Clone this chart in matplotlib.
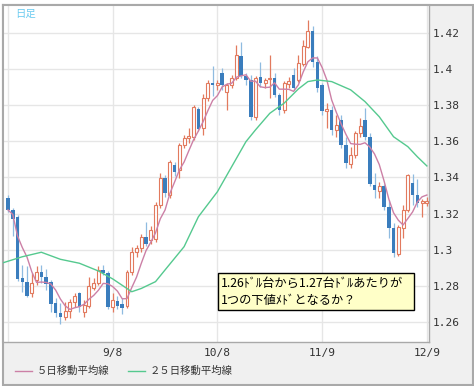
import numpy as np
import pandas as pd
import matplotlib
matplotlib.use('Agg')
import matplotlib.pyplot as plt
from matplotlib.patches import Rectangle
from matplotlib.lines import Line2D

plt.rcParams['font.family'] = ['Noto Sans CJK JP', 'DejaVu Sans']

# daily candles, 8/9 .. 12/9 (one per trading day)
opens = [1.3286, 1.3220, 1.3181, 1.2842, 1.2820, 1.2759, 1.2831, 1.2875, 1.2848, 1.2820,
         1.2703, 1.2648, 1.2626, 1.2659, 1.2709, 1.2759, 1.2653, 1.2687, 1.2787, 1.2814,
         1.2887, 1.2870, 1.2681, 1.2714, 1.2698, 1.2687, 1.2875, 1.2986, 1.3009, 1.3070,
         1.3053, 1.3059, 1.3247, 1.3397, 1.3303, 1.3469, 1.3442, 1.3580, 1.3619, 1.3625,
         1.3780, 1.3675, 1.3841, 1.3924, 1.3913, 1.3980, 1.3874, 1.3913, 1.3952, 1.4074,
         1.3963, 1.3941, 1.3736, 1.3958, 1.3924, 1.3947, 1.3952, 1.3858, 1.3775, 1.3919,
         1.3969, 1.3941, 1.4030, 1.4124, 1.4213, 1.4041, 1.3913, 1.3769, 1.3775, 1.3664,
         1.3719, 1.3580, 1.3475, 1.3525, 1.3647, 1.3719, 1.3625, 1.3358, 1.3325, 1.3353,
         1.3236, 1.3120, 1.2975, 1.3120, 1.3220, 1.3369, 1.3303, 1.3258, 1.3258]
highs = [1.3303, 1.3231, 1.3192, 1.2914, 1.2909, 1.2870, 1.2909, 1.2914, 1.2892, 1.2831,
         1.2731, 1.2703, 1.2709, 1.2726, 1.2759, 1.2764, 1.2720, 1.2848, 1.2842, 1.2909,
         1.2914, 1.2881, 1.2759, 1.2742, 1.2731, 1.2887, 1.3014, 1.3025, 1.3086, 1.3153,
         1.3131, 1.3264, 1.3425, 1.3414, 1.3497, 1.3486, 1.3591, 1.3636, 1.3675, 1.3802,
         1.3791, 1.3863, 1.3941, 1.4019, 1.3941, 1.4008, 1.3924, 1.3969, 1.4135, 1.4152,
         1.3980, 1.3969, 1.3963, 1.4041, 1.3952, 1.4080, 1.3980, 1.3869, 1.3935, 1.3958,
         1.4008, 1.4080, 1.4163, 1.4274, 1.4241, 1.4074, 1.3924, 1.3813, 1.3797, 1.3747,
         1.3747, 1.3625, 1.3569, 1.3658, 1.3730, 1.3786, 1.3647, 1.3425, 1.3375, 1.3364,
         1.3275, 1.3147, 1.3136, 1.3247, 1.3419, 1.3419, 1.3392, 1.3281, 1.3292]
lows = [1.3208, 1.3075, 1.2825, 1.2764, 1.2737, 1.2737, 1.2803, 1.2814, 1.2776, 1.2653,
        1.2626, 1.2587, 1.2609, 1.2620, 1.2681, 1.2653, 1.2626, 1.2676, 1.2776, 1.2803,
        1.2859, 1.2670, 1.2653, 1.2670, 1.2642, 1.2676, 1.2859, 1.2959, 1.2986, 1.3020,
        1.3031, 1.3042, 1.3231, 1.3292, 1.3286, 1.3408, 1.3397, 1.3564, 1.3591, 1.3608,
        1.3658, 1.3636, 1.3824, 1.3852, 1.3886, 1.3886, 1.3775, 1.3897, 1.3941, 1.3952,
        1.3913, 1.3719, 1.3719, 1.3902, 1.3897, 1.3841, 1.3847, 1.3747, 1.3758, 1.3897,
        1.3886, 1.3930, 1.4019, 1.4119, 1.4013, 1.3874, 1.3747, 1.3675, 1.3636, 1.3625,
        1.3564, 1.3453, 1.3453, 1.3508, 1.3625, 1.3608, 1.3353, 1.3286, 1.3286, 1.3220,
        1.3064, 1.2959, 1.2964, 1.3064, 1.3208, 1.3247, 1.3236, 1.3181, 1.3242]
closes = [1.3220, 1.3170, 1.2837, 1.2820, 1.2742, 1.2814, 1.2875, 1.2848, 1.2809, 1.2698,
          1.2648, 1.2626, 1.2659, 1.2709, 1.2742, 1.2681, 1.2692, 1.2798, 1.2814, 1.2887,
          1.2870, 1.2681, 1.2720, 1.2687, 1.2676, 1.2875, 1.2986, 1.3009, 1.3070, 1.3031,
          1.3109, 1.3247, 1.3397, 1.3314, 1.3486, 1.3430, 1.3580, 1.3619, 1.3630, 1.3791,
          1.3669, 1.3841, 1.3924, 1.3913, 1.3924, 1.3913, 1.3913, 1.3952, 1.4080, 1.3963,
          1.3941, 1.3736, 1.3952, 1.3924, 1.3941, 1.3952, 1.3858, 1.3775, 1.3924, 1.3935,
          1.3897, 1.4035, 1.4130, 1.4213, 1.4041, 1.3897, 1.3769, 1.3780, 1.3664, 1.3691,
          1.3580, 1.3480, 1.3525, 1.3647, 1.3686, 1.3625, 1.3364, 1.3331, 1.3353, 1.3236,
          1.3120, 1.2981, 1.3125, 1.3220, 1.3414, 1.3303, 1.3258, 1.3269, 1.3269]

# 25-day moving average (day index, value)
ma25_day = [-1, 3, 7, 11, 15, 19, 22, 26, 28, 31, 33, 37, 40, 44, 47,
            50, 52, 55, 58, 61, 63, 65, 68, 72, 75, 78, 81, 84, 86, 88]
ma25 = [1.2927, 1.2960, 1.2985, 1.2946, 1.2924, 1.2881, 1.2837, 1.2766, 1.2784, 1.2822,
        1.2887, 1.3016, 1.3182, 1.3321, 1.3460, 1.3599, 1.3664, 1.3756, 1.3812, 1.3891,
        1.3932, 1.3941, 1.3932, 1.3886, 1.3821, 1.3737, 1.3626, 1.3571, 1.3515, 1.3464]

month_days = [0, 22, 44, 66, 88]
tick_days = [22, 44, 66, 88]
tick_labels = ['9/8', '10/8', '11/9', '12/9']
y_ticks = [1.26, 1.28, 1.30, 1.32, 1.34, 1.36, 1.38, 1.40, 1.42]
y_labels = ['1.26', '1.28', '1.3', '1.32', '1.34', '1.36', '1.38', '1.4', '1.42']

legend_labels = ['５日移動平均線', '２５日移動平均線']
note_lines = ['1.26ﾄﾞﾙ台から1.27台ﾄﾞﾙあたりが', '1つの下値ﾒﾄﾞとなるか？']

orange = '#e27a5e'
blue = '#3a7dbd'
blue_wick = '#8fbbe0'
pink = '#cc80a6'
green = '#55c98f'
frame = '#a9a9a9'

W, H = 474, 386
fig = plt.figure(figsize=(W / 100, H / 100), dpi=100, facecolor='white')


def fx(px):
    return px / W


def fy(py):
    return 1 - py / H


fig.patches.append(Rectangle((fx(3), fy(385)), fx(470), 380 / H, transform=fig.transFigure,
                             facecolor='#f0f0f0', edgecolor=frame, lw=1.5, zorder=-5))

ax = fig.add_axes([fx(3), fy(342), fx(429 - 3), (342 - 5) / H])
ax.set_facecolor('white')

x = np.arange(len(closes))
o, h, l, c = map(np.array, (opens, highs, lows, closes))
up = c >= o
bottom = np.minimum(o, c)
height = np.maximum(np.abs(c - o), 0.0003)

ax.vlines(x[up], l[up], h[up], color=orange, lw=0.9, zorder=2)
ax.vlines(x[~up], l[~up], h[~up], color=blue_wick, lw=0.9, zorder=2)
ax.bar(x[up], height[up], bottom=bottom[up], width=0.62, facecolor='white',
       edgecolor=orange, lw=0.8, zorder=3)
ax.bar(x[~up], height[~up], bottom=bottom[~up], width=0.74, color=blue, lw=0, zorder=3)

ma5 = pd.Series(closes).rolling(5, min_periods=1).mean()
ax.plot(x, ma5, color=pink, lw=1, zorder=4)
ax.plot(ma25_day, ma25, color=green, lw=1, zorder=4)

for d in month_days:
    ax.axvline(d, color='#e6e6e6', lw=1, zorder=0)
ax.set_yticks(y_ticks)
ax.grid(axis='y', color='#e6e6e6', lw=1, zorder=0)
ax.set_axisbelow(True)

ax.set_xlim(-1.05, 88.45)
ax.set_ylim(1.2487, 1.4357)

ax.yaxis.tick_right()
ax.set_yticklabels(y_labels, family='DejaVu Sans Mono', fontsize=8, color='#333333')
ax.set_xticks(tick_days)
ax.set_xticklabels(tick_labels, family='DejaVu Sans Mono', fontsize=8, color='#333333')
ax.tick_params(axis='y', length=0, pad=2.6)
ax.tick_params(axis='x', length=0, pad=4.5)
for side in ['left', 'top']:
    ax.spines[side].set_color(frame)
    ax.spines[side].set_linewidth(1.5)
for side in ['right', 'bottom']:
    ax.spines[side].set_color(frame)
    ax.spines[side].set_linewidth(1)

fig.text(fx(15), fy(13.5), '日足', color='#6ccbf0', fontsize=7.5, va='center', ha='left')

# note box
fig.patches.append(Rectangle((fx(218), fy(310)), fx(196), 37 / H, transform=fig.transFigure,
                             facecolor='#ffffc8', edgecolor='black', lw=1, zorder=5))
fig.text(fx(221), fy(283.5), note_lines[0], fontsize=8.8, va='center', ha='left', zorder=6)
fig.text(fx(221), fy(300.5), note_lines[1], fontsize=8.8, va='center', ha='left', zorder=6)

# legend
for (x0, x1, tx), col, lab in zip([(15, 32, 37), (128, 145, 150)], [pink, green], legend_labels):
    fig.add_artist(Line2D([fx(x0), fx(x1)], [fy(371), fy(371)], color=col, lw=1,
                          transform=fig.transFigure))
    fig.text(fx(tx), fy(371), lab, fontsize=7.5, va='center', ha='left', color='#333333')

fig.savefig('out.png', dpi=100, facecolor=fig.get_facecolor())
